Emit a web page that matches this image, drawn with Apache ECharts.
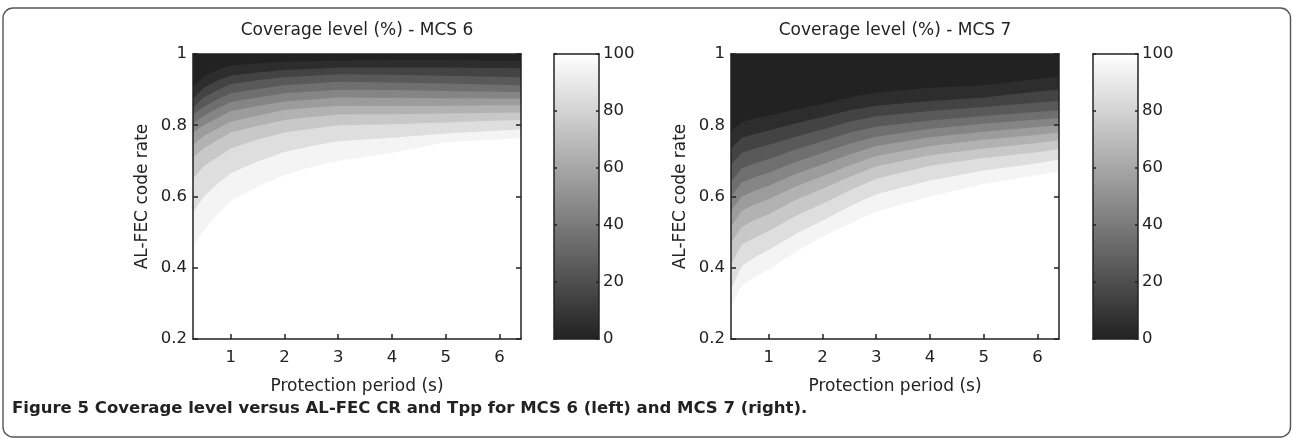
<!DOCTYPE html>
<html>
<head>
<meta charset="utf-8">
<script src="https://cdn.jsdelivr.net/npm/echarts@6.0.0/dist/echarts.min.js"></script>
<style>
  html, body { margin: 0; padding: 0; background: #ffffff; }
  #chart { width: 1292px; height: 439px; }
</style>
</head>
<body>
<div id="chart"></div>
<script>
// ---------------- DATA ----------------
// Protection period (s) sample positions
const protectionPeriod = [0.3, 0.5, 0.75, 1, 1.5, 2, 2.5, 3, 4, 5, 6, 6.4];
// Coverage levels (%) of the filled contour boundaries
const coverageLevels = [100, 90, 80, 70, 60, 50, 40, 30, 20, 10, 0];

// MCS 6: AL-FEC code rate at which coverage crosses each level
const mcs6Level100 = [0.46, 0.505, 0.55, 0.587, 0.628, 0.66, 0.683, 0.70, 0.722, 0.752, 0.76, 0.764];
const mcs6Level90  = [0.555, 0.60, 0.635, 0.665, 0.698, 0.725, 0.742, 0.755, 0.765, 0.777, 0.785, 0.788];
const mcs6Level80  = [0.65, 0.685, 0.71, 0.735, 0.76, 0.78, 0.79, 0.80, 0.803, 0.808, 0.813, 0.815];
const mcs6Level70  = [0.71, 0.735, 0.758, 0.78, 0.798, 0.815, 0.823, 0.83, 0.831, 0.833, 0.835, 0.836];
const mcs6Level60  = [0.745, 0.77, 0.79, 0.81, 0.827, 0.843, 0.849, 0.855, 0.855, 0.855, 0.856, 0.856];
const mcs6Level50  = [0.78, 0.80, 0.82, 0.84, 0.854, 0.867, 0.872, 0.878, 0.877, 0.876, 0.875, 0.875];
const mcs6Level40  = [0.805, 0.827, 0.847, 0.865, 0.878, 0.89, 0.895, 0.90, 0.899, 0.896, 0.894, 0.893];
const mcs6Level30  = [0.83, 0.852, 0.872, 0.89, 0.902, 0.912, 0.917, 0.922, 0.92, 0.917, 0.914, 0.912];
const mcs6Level20  = [0.85, 0.878, 0.898, 0.915, 0.926, 0.935, 0.939, 0.943, 0.942, 0.939, 0.936, 0.935];
const mcs6Level10  = [0.875, 0.905, 0.925, 0.94, 0.948, 0.955, 0.958, 0.962, 0.962, 0.962, 0.961, 0.96];
const mcs6Level0   = [0.908, 0.937, 0.955, 0.968, 0.974, 0.978, 0.98, 0.982, 0.983, 0.983, 0.982, 0.982];

// MCS 7
const mcs7Level100 = [0.29, 0.35, 0.375, 0.395, 0.445, 0.487, 0.523, 0.558, 0.60, 0.635, 0.66, 0.67];
const mcs7Level90  = [0.34, 0.405, 0.43, 0.45, 0.495, 0.532, 0.572, 0.606, 0.645, 0.673, 0.693, 0.704];
const mcs7Level80  = [0.41, 0.465, 0.485, 0.503, 0.545, 0.58, 0.617, 0.65, 0.686, 0.708, 0.724, 0.733];
const mcs7Level70  = [0.47, 0.515, 0.535, 0.55, 0.59, 0.622, 0.655, 0.685, 0.716, 0.735, 0.75, 0.758];
const mcs7Level60  = [0.515, 0.56, 0.578, 0.592, 0.628, 0.657, 0.687, 0.714, 0.742, 0.759, 0.773, 0.78];
const mcs7Level50  = [0.56, 0.60, 0.617, 0.63, 0.663, 0.69, 0.718, 0.742, 0.766, 0.782, 0.795, 0.80];
const mcs7Level40  = [0.60, 0.64, 0.655, 0.667, 0.697, 0.722, 0.748, 0.768, 0.79, 0.804, 0.816, 0.82];
const mcs7Level30  = [0.64, 0.68, 0.694, 0.705, 0.732, 0.755, 0.779, 0.796, 0.813, 0.826, 0.838, 0.842];
const mcs7Level20  = [0.69, 0.722, 0.735, 0.745, 0.768, 0.788, 0.81, 0.825, 0.84, 0.851, 0.864, 0.868];
const mcs7Level10  = [0.735, 0.765, 0.776, 0.785, 0.805, 0.823, 0.842, 0.855, 0.868, 0.878, 0.895, 0.90];
const mcs7Level0   = [0.783, 0.81, 0.82, 0.827, 0.845, 0.86, 0.878, 0.892, 0.905, 0.912, 0.93, 0.936];

// Tick values
const periodTicks = [1, 2, 3, 4, 5, 6];
const colorbarValue = [100];

// ---------------- STYLE ----------------
const FONT = '"DejaVu Sans", "Liberation Sans", sans-serif';
const INK = '#222222';
const AXIS_W = 1.5;

function gray(v) {           // MATLAB-like gray colormap, 0 -> dark, 100 -> white
  const g = Math.round(34 + (255 - 34) * Math.max(0, Math.min(100, v)) / 100);
  return 'rgb(' + g + ',' + g + ',' + g + ')';
}

function bandSeries(levelArrays, xi, yi) {
  return levelArrays.map(function (arr, k) {
    const lvl = coverageLevels[k];
    return {
      type: 'line',
      xAxisIndex: xi,
      yAxisIndex: yi,
      data: protectionPeriod.map(function (x, i) { return [x, arr[i]]; }),
      showSymbol: false,
      symbol: 'none',
      smooth: false,
      silent: true,
      animation: false,
      lineStyle: { width: 0, opacity: 0 },
      areaStyle: { origin: 'end', color: gray(Math.max(lvl - 5, 0)), opacity: 1 },
      z: 2
    };
  });
}

const tickText = { color: INK, fontFamily: FONT, fontSize: 16.5 };
const nameText = { color: INK, fontFamily: FONT, fontSize: 17 };
const lineSt = { color: INK, width: AXIS_W };

function plotX(gi, pos, withLabels) {
  return {
    type: 'value', gridIndex: gi, position: pos, min: 0.3, max: 6.4, z: 10,
    axisLine: { show: true, onZero: false, lineStyle: lineSt },
    axisTick: { show: true, inside: true, length: 5, customValues: periodTicks, lineStyle: lineSt },
    axisLabel: withLabels ? Object.assign({ show: true, margin: 10, customValues: periodTicks }, tickText) : { show: false },
    splitLine: { show: false },
    name: withLabels ? 'Protection period (s)' : '',
    nameLocation: 'middle', nameGap: 39, nameTextStyle: nameText
  };
}
function plotY(gi, pos, withLabels) {
  return {
    type: 'value', gridIndex: gi, position: pos, min: 0.2, max: 1, interval: 0.2, z: 10,
    axisLine: { show: true, onZero: false, lineStyle: lineSt },
    axisTick: { show: true, inside: true, length: 5, lineStyle: lineSt },
    axisLabel: withLabels ? Object.assign({ show: true, margin: 6 }, tickText) : { show: false },
    splitLine: { show: false },
    name: withLabels ? 'AL-FEC code rate' : '',
    nameLocation: 'middle', nameGap: 42, nameRotate: 90, nameTextStyle: nameText
  };
}
function barX(gi, pos) {
  return {
    type: 'category', gridIndex: gi, position: pos, data: ['c'], z: 10,
    axisLine: { show: true, onZero: false, lineStyle: lineSt },
    axisTick: { show: false }, axisLabel: { show: false }, splitLine: { show: false }
  };
}
function barY(gi, pos, withLabels) {
  return {
    type: 'value', gridIndex: gi, position: pos, min: 0, max: 100, interval: 20, z: 10,
    axisLine: { show: true, onZero: false, lineStyle: lineSt },
    axisTick: { show: true, inside: true, length: 3, lineStyle: lineSt },
    axisLabel: withLabels ? Object.assign({ show: true, margin: 4 }, tickText) : { show: false },
    splitLine: { show: false }
  };
}

function colorbarSeries(xi, yi) {
  return {
    type: 'bar', xAxisIndex: xi, yAxisIndex: yi, data: colorbarValue,
    barWidth: '100%', silent: true, animation: false, z: 2,
    itemStyle: {
      color: new echarts.graphic.LinearGradient(0, 0, 0, 1, [
        { offset: 0, color: gray(100) }, { offset: 1, color: gray(0) }
      ])
    }
  };
}

const chart = echarts.init(document.getElementById('chart'), null, { renderer: 'canvas' });

const option = {
  backgroundColor: '#ffffff',
  animation: false,
  grid: [
    { left: 193, top: 54, width: 328, height: 285 },
    { left: 554, top: 54, width: 45, height: 285 },
    { left: 731, top: 54, width: 328, height: 285 },
    { left: 1093, top: 54, width: 45, height: 285 }
  ],
  xAxis: [
    plotX(0, 'bottom', true), plotX(0, 'top', false),
    barX(1, 'bottom'), barX(1, 'top'),
    plotX(2, 'bottom', true), plotX(2, 'top', false),
    barX(3, 'bottom'), barX(3, 'top')
  ],
  yAxis: [
    plotY(0, 'left', true), plotY(0, 'right', false),
    barY(1, 'left', false), barY(1, 'right', true),
    plotY(2, 'left', true), plotY(2, 'right', false),
    barY(3, 'left', false), barY(3, 'right', true)
  ],
  series: [].concat(
    bandSeries([mcs6Level100, mcs6Level90, mcs6Level80, mcs6Level70, mcs6Level60, mcs6Level50,
                mcs6Level40, mcs6Level30, mcs6Level20, mcs6Level10, mcs6Level0], 0, 0),
    [colorbarSeries(2, 3)],
    bandSeries([mcs7Level100, mcs7Level90, mcs7Level80, mcs7Level70, mcs7Level60, mcs7Level50,
                mcs7Level40, mcs7Level30, mcs7Level20, mcs7Level10, mcs7Level0], 4, 4),
    [colorbarSeries(6, 7)]
  ),
  graphic: {
    elements: [
      {
        type: 'rect', silent: true, z: 0,
        shape: { x: 3, y: 8, width: 1287.5, height: 429, r: 10 },
        style: { fill: 'none', stroke: '#555555', lineWidth: 1.4 }
      },
      {
        type: 'text', x: 357, y: 31, silent: true,
        style: { text: 'Coverage level (%) - MCS 6', fill: INK, fontFamily: FONT, fontSize: 17,
                 align: 'center', verticalAlign: 'middle' }
      },
      {
        type: 'text', x: 895, y: 31, silent: true,
        style: { text: 'Coverage level (%) - MCS 7', fill: INK, fontFamily: FONT, fontSize: 17,
                 align: 'center', verticalAlign: 'middle' }
      },
      {
        type: 'text', x: 12, y: 409, silent: true,
        style: { text: 'Figure 5 Coverage level versus AL-FEC CR and Tpp for MCS 6 (left) and MCS 7 (right).',
                 fill: INK, fontFamily: FONT, fontSize: 16.5, fontWeight: 'bold',
                 align: 'left', verticalAlign: 'middle' }
      }
    ]
  }
};

chart.setOption(option);
</script>
</body>
</html>
